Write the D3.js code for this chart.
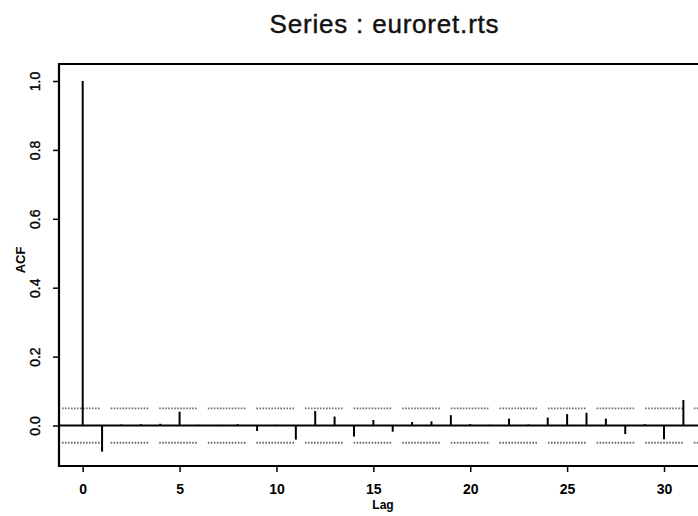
<!DOCTYPE html>
<html>
<head>
<meta charset="utf-8">
<script src="https://cdn.jsdelivr.net/npm/d3@7"></script>
<style>
  html, body { margin: 0; padding: 0; background: #fff; }
  svg { display: block; }
</style>
</head>
<body>
<svg id="chart" width="698" height="516"></svg>
<script>
// ---- data ----
const title = "Series : euroret.rts";
const lags = [0,1,2,3,4,5,6,7,8,9,10,11,12,13,14,15,16,17,18,19,20,21,22,23,24,25,26,27,28,29,30,31];
const acf  = [1.0,-0.076,0.003,0.004,0.005,0.040,0.002,-0.002,0.004,-0.016,0.002,-0.041,0.042,0.026,-0.032,0.016,-0.018,0.010,0.012,0.030,0.004,0.002,0.020,0.003,0.023,0.033,0.037,0.020,-0.025,0.004,-0.040,0.074];
const ciBound = 0.05;
const xTicks = [0,5,10,15,20,25,30];
const yTicks = [0,0.2,0.4,0.6,0.8,1.0];
const xLabel = "Lag";
const yLabel = "ACF";

// ---- layout ----
const svg = d3.select("#chart");
const box = {left: 59, top: 64, right: 710, bottom: 466};

const x = d3.scaleLinear().domain([0, 30]).range([82.7, 664]);
const y = d3.scaleLinear().domain([0, 1]).range([425.5, 81]);

// title
svg.append("text")
  .attr("x", (box.left + box.right) / 2)
  .attr("y", 33)
  .attr("text-anchor", "middle")
  .attr("font-family", "Liberation Sans, Arial, sans-serif")
  .attr("font-size", 26)
  .attr("letter-spacing", 0.8)
  .attr("fill", "#111")
  .attr("stroke", "#111").attr("stroke-width", 0.4)
  .text(title);

// confidence bands (dotted, segmented)
let dash = [];
for (let i = 0; i < 13; i++) { dash.push(1.6, 1.4); }
dash[dash.length - 1] = 11;
[ciBound, -ciBound].forEach(b => {
  svg.append("line")
    .attr("x1", 62).attr("x2", 698)
    .attr("y1", y(b)).attr("y2", y(b))
    .attr("stroke", "#6e6e6e")
    .attr("stroke-width", 1.8)
    .attr("stroke-dasharray", dash.join(","));
});

// zero line
svg.append("line")
  .attr("x1", box.left).attr("x2", 698)
  .attr("y1", y(0)).attr("y2", y(0))
  .attr("stroke", "#000").attr("stroke-width", 2);

// acf bars
svg.append("g").selectAll("line")
  .data(lags.map((l, i) => ({lag: l, v: acf[i]})))
  .join("line")
  .attr("x1", d => x(d.lag)).attr("x2", d => x(d.lag))
  .attr("y1", y(0)).attr("y2", d => y(d.v))
  .attr("stroke", "#000").attr("stroke-width", 2);

// box (top, left, bottom; right edge lies outside the window)
svg.append("path")
  .attr("d", `M${box.right},${box.top}H${box.left}V${box.bottom}H${box.right}`)
  .attr("fill", "none").attr("stroke", "#000").attr("stroke-width", 2.2);

// x axis
const xAxis = d3.axisBottom(x).tickValues(xTicks).tickSize(6).tickPadding(12).tickFormat(d3.format("d"));
const gx = svg.append("g").attr("transform", `translate(0,${box.bottom})`).call(xAxis);
gx.select(".domain").remove();
gx.selectAll(".tick line").attr("stroke", "#000").attr("stroke-width", 1.5);
gx.selectAll(".tick text")
  .attr("font-family", "Liberation Sans, Arial, sans-serif")
  .attr("font-size", 14).attr("font-weight", "bold").attr("fill", "#000");

// y axis
const yAxis = d3.axisLeft(y).tickValues(yTicks).tickSize(6).tickPadding(0).tickFormat(d3.format(".1f"));
const gy = svg.append("g").attr("transform", `translate(${box.left},0)`).call(yAxis);
gy.select(".domain").remove();
gy.selectAll(".tick line").attr("stroke", "#000").attr("stroke-width", 1.5);
gy.selectAll(".tick text")
  .attr("x", null).attr("dy", null)
  .attr("text-anchor", "middle")
  .attr("transform", "translate(-19,0) rotate(-90)")
  .attr("font-family", "Liberation Sans, Arial, sans-serif")
  .attr("font-size", 14).attr("fill", "#000")
  .attr("stroke", "#000").attr("stroke-width", 0.35);

// axis labels
svg.append("text")
  .attr("x", 383).attr("y", 509)
  .attr("text-anchor", "middle")
  .attr("font-family", "Liberation Sans, Arial, sans-serif")
  .attr("font-size", 12).attr("font-weight", "bold")
  .text(xLabel);

svg.append("text")
  .attr("transform", "translate(25,260) rotate(-90)")
  .attr("text-anchor", "middle")
  .attr("font-family", "Liberation Sans, Arial, sans-serif")
  .attr("font-size", 13).attr("font-weight", "bold")
  .text(yLabel);
</script>
</body>
</html>
